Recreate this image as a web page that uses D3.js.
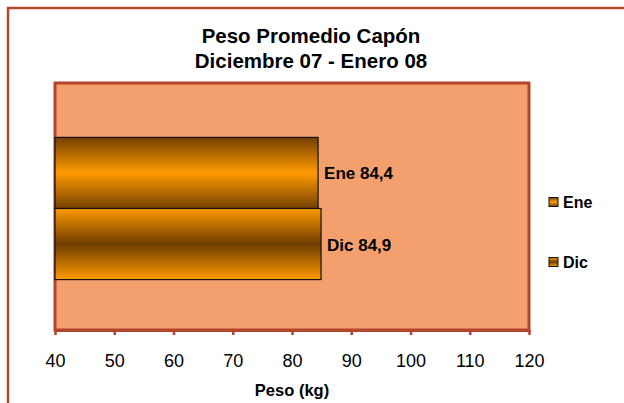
<!DOCTYPE html>
<html><head><meta charset="utf-8">
<script src="https://cdn.jsdelivr.net/npm/d3@7"></script>
<style>html,body{margin:0;padding:0;background:#fff;}svg{display:block;} text{font-family:'Liberation Sans', Arial, sans-serif;}</style>
</head><body>
<script>
const categories = ["Peso"];
const seriesNames = ["Ene", "Dic"];
const seriesValues = [84.4, 84.9];
const xTicks = [40, 50, 60, 70, 80, 90, 100, 110, 120];
const title = ["Peso Promedio Capón", "Diciembre 07 - Enero 08"];
const xTitle = "Peso (kg)";

const W = 624, H = 403;
const FONT = "'Liberation Sans', Arial, sans-serif";
const svg = d3.select("body").append("svg").attr("width", W).attr("height", H)
  .style("font-family", FONT);

const border = "#B2452B";
const plot = {l: 55, r: 529, t: 83, b: 330};

const defs = svg.append("defs");
function grad(id, stops) {
  const g = defs.append("linearGradient").attr("id", id).attr("x1", 0).attr("y1", 0).attr("x2", 0).attr("y2", 1);
  stops.forEach(s => g.append("stop").attr("offset", s[0]).attr("stop-color", s[1]));
}
grad("gEne", [[0, "#744000"], [0.5, "#FF9A00"], [1, "#744000"]]);
grad("gDic", [[0, "#FF9A00"], [0.5, "#6E3C00"], [1, "#FF9A00"]]);

// outer chart border
svg.append("rect").attr("x", 8).attr("y", 8).attr("width", W + 10).attr("height", H + 10)
  .attr("fill", "#fff").attr("stroke", border).attr("stroke-width", 2.5);

// plot area
svg.append("rect").attr("x", plot.l).attr("y", plot.t).attr("width", plot.r - plot.l).attr("height", plot.b - plot.t)
  .attr("fill", "#F4A06E").attr("stroke", border).attr("stroke-width", 3);

const x = d3.scaleLinear().domain([40, 120]).range([plot.l, plot.r]);
const y0 = d3.scaleBand().domain(categories).range([plot.t + 2, plot.b + 2]).paddingInner(0.4243).paddingOuter(0.2121);
const y1 = d3.scaleBand().domain(seriesNames).range([0, y0.bandwidth()]);

const g = svg.append("g");
categories.forEach(c => {
  seriesNames.forEach((s, i) => {
    const v = seriesValues[i];
    g.append("rect")
      .attr("x", x(40)).attr("y", y0(c) + y1(s))
      .attr("width", x(v) - x(40)).attr("height", y1.bandwidth())
      .attr("fill", `url(#g${s})`).attr("stroke", "#111").attr("stroke-width", 1.2);
    g.append("text")
      .attr("x", x(v) + 6).attr("y", y0(c) + y1(s) + y1.bandwidth() / 2 + 6.5)
      .attr("font-size", 17).attr("font-weight", "bold").attr("fill", "#000")
      .text(`${s} ${String(v).replace(".", ",")}`);
  });
});

// axis
const axis = d3.axisBottom(x).tickValues(xTicks).tickSize(5).tickPadding(19).tickSizeOuter(0);
const ax = svg.append("g").attr("transform", `translate(0,${plot.b})`).call(axis);
ax.attr("font-family", FONT);
ax.select(".domain").attr("stroke", border).attr("stroke-width", 3);
ax.selectAll(".tick line").attr("stroke", border).attr("stroke-width", 2.5);
ax.selectAll(".tick text").attr("font-size", 18).attr("fill", "#000");

svg.append("text").attr("x", x(80)).attr("y", 396).attr("text-anchor", "middle")
  .attr("font-size", 16.5).attr("font-weight", "bold").text(xTitle);

// title
title.forEach((t, i) => {
  svg.append("text").attr("x", 311).attr("y", 43 + i * 25).attr("text-anchor", "middle")
    .attr("font-size", 20.5).attr("font-weight", "bold").text(t);
});

// legend
seriesNames.forEach((s, i) => {
  const ly = 202 + i * 60;
  svg.append("rect").attr("x", 549).attr("y", ly - 4.5).attr("width", 9).attr("height", 9)
    .attr("fill", `url(#g${s})`).attr("stroke", "#111").attr("stroke-width", 1);
  svg.append("text").attr("x", 563).attr("y", ly + 5.5).attr("font-size", 16).attr("font-weight", "bold").text(s);
});
</script>
</body></html>
